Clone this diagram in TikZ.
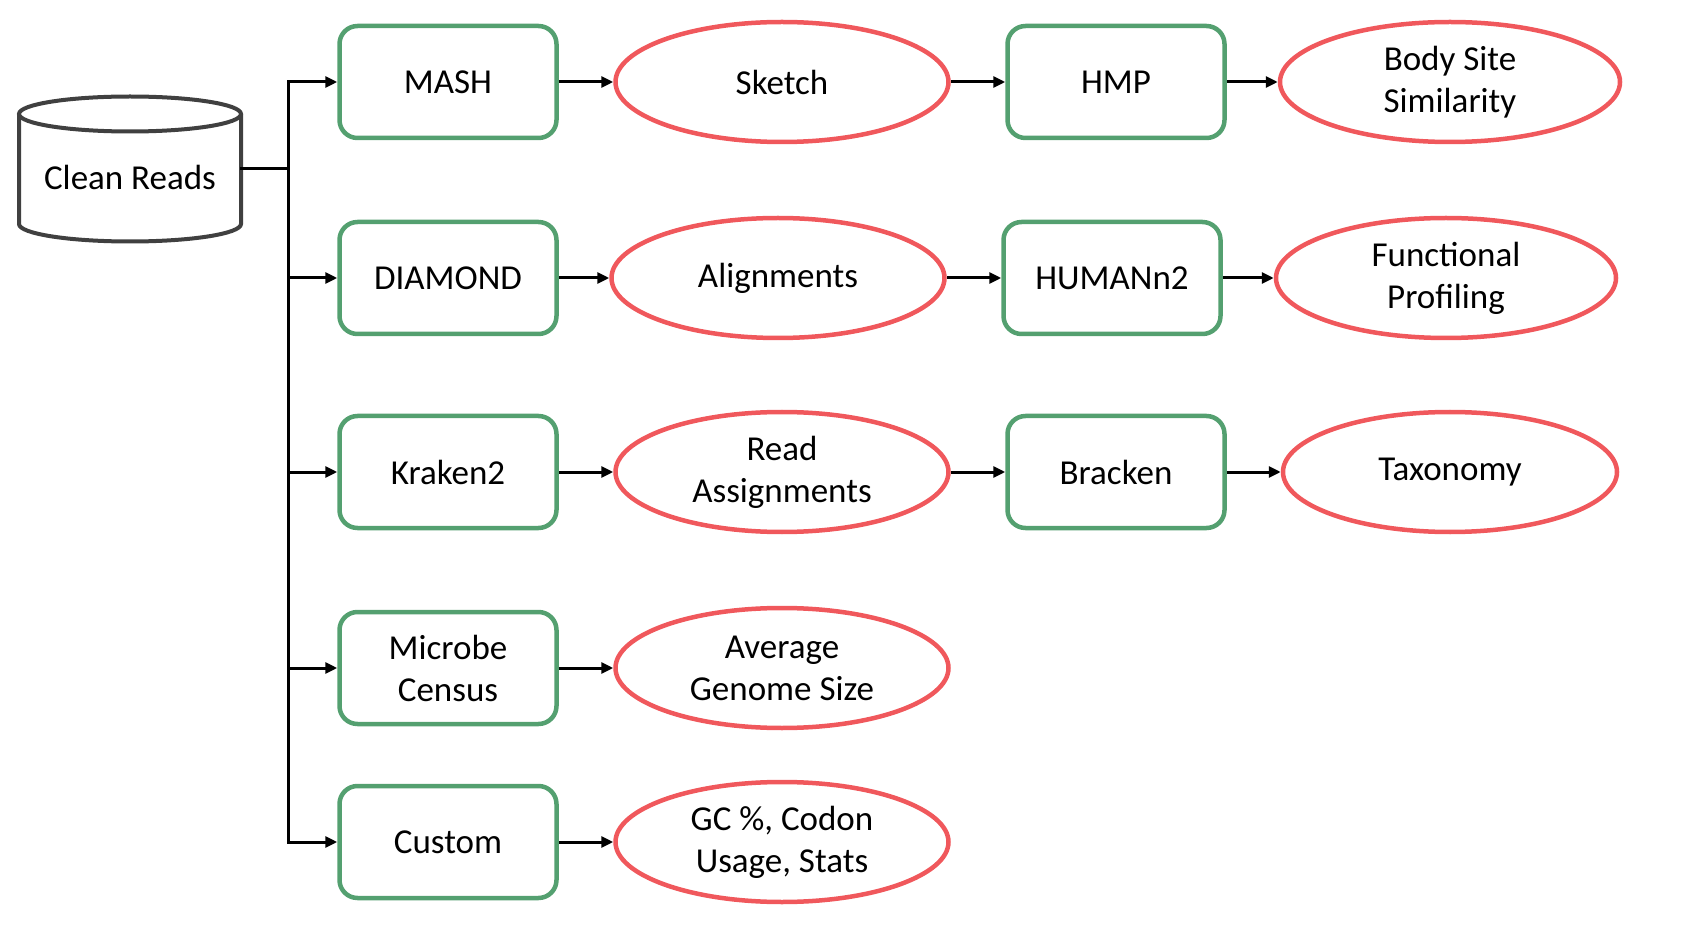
\documentclass[tikz,border=0pt]{standalone}
\usepackage{fontspec}
\setmainfont{Carlito}
\usetikzlibrary{shapes.geometric,arrows.meta}
\definecolor{toolgreen}{RGB}{84,160,112}
\definecolor{outred}{RGB}{240,88,92}
\definecolor{dbgray}{RGB}{64,64,64}

\begin{document}
\begin{tikzpicture}[x=1pt,y=-1pt,
    tool/.style={draw=toolgreen, line width=4.5pt, rounded corners=18pt, minimum width=217pt, minimum height=112pt, inner sep=0pt, align=center, font=\fontsize{35}{42}\selectfont},
    result/.style={ellipse, draw=outred, line width=4.5pt, minimum width=333pt, minimum height=120pt, inner sep=0pt, align=center, font=\fontsize{35}{42}\selectfont},
    wire/.style={line width=3pt, line cap=rect},
    link/.style={line width=3pt, -{Triangle[length=12pt,width=11pt]}}]
    \useasboundingbox (0,0) rectangle (1687,949);

    % database
    \draw[dbgray, line width=4pt, fill=white] (19,114) -- (19,224) arc[start angle=180, end angle=360, x radius=111pt, y radius=17.5pt] -- (241,114);
    \draw[dbgray, line width=4pt, fill=white] (130,114) ellipse [x radius=111pt, y radius=17.5pt];
    \node (creads) at (130,169) [minimum width=222pt, minimum height=145pt, inner sep=0pt, text height=42pt, text depth=0pt, font=\fontsize{35}{42}\selectfont] {Clean Reads};

    % tools
    \node[tool] (mash) at (448,82) {MASH};
    \node[tool] (diamond) at (448,278) {DIAMOND};
    \node[tool] (kraken) at (448,472) {Kraken2};
    \node[tool] (census) at (448,668) {Microbe\\Census};
    \node[tool] (custom) at (448,842) {Custom};
    \node[tool] (hmp) at (1116,82) {HMP};
    \node[tool] (humann) at (1112,278) {HUMANn2};
    \node[tool] (bracken) at (1116,472) {Bracken};

    % outputs
    \node[result] (sketch) at (782,82) {Sketch};
    \node[result] (align) at (778,278) {Alignments};
    \node[result] (assign) at (782,472) {Read\\Assignments};
    \node[result] (gsize) at (782,668) {Average\\Genome Size};
    \node[result] (stats) at (782,842) {GC \%, Codon\\Usage, Stats};
    \node[result, minimum width=340pt] (bsite) at (1450,82) {Body Site\\Similarity};
    \node[result, minimum width=340pt] (funct) at (1446,278) {Functional\\Profiling};
    \node[result, minimum width=334pt] (taxa) at (1450,472) {Taxonomy};

    % trunk
    \coordinate (split) at (288,169);
    \coordinate (t1) at (288,82);
    \coordinate (t2) at (288,278);
    \coordinate (t3) at (288,472);
    \coordinate (t4) at (288,668);
    \coordinate (t5) at (288,842);
    \draw[wire] (creads.east) -- (split);
    \draw[wire] (t1) -- (t5);
    \foreach \row/\tool in {1/mash,2/diamond,3/kraken,4/census,5/custom}
        \draw[link] (t\row) -- (\tool.west);

    % rows
    \draw[link] (mash) -- (sketch);
    \draw[link] (sketch) -- (hmp);
    \draw[link] (hmp) -- (bsite);
    \draw[link] (diamond) -- (align);
    \draw[link] (align) -- (humann);
    \draw[link] (humann) -- (funct);
    \draw[link] (kraken) -- (assign);
    \draw[link] (assign) -- (bracken);
    \draw[link] (bracken) -- (taxa);
    \draw[link] (census) -- (gsize);
    \draw[link] (custom) -- (stats);
\end{tikzpicture}
\end{document}
